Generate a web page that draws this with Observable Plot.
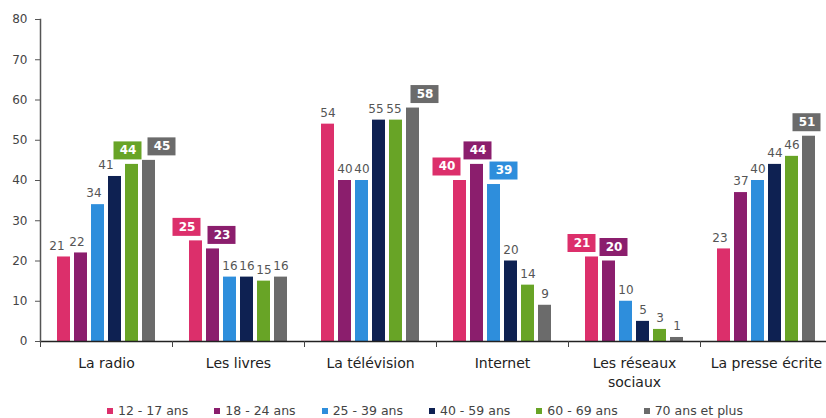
<!DOCTYPE html>
<html><head><meta charset="utf-8">
<script src="https://cdn.jsdelivr.net/npm/d3@7"></script>
<script src="https://cdn.jsdelivr.net/npm/@observablehq/plot@0.6"></script>
<style>
body{margin:0;background:#fff;font-family:"DejaVu Sans",sans-serif;}
#chart svg{display:block;overflow:hidden;}
#legend{display:flex;justify-content:center;padding-top:11px;padding-left:24px;font-size:12.5px;line-height:15px;color:#444;}
#legend .item{display:flex;align-items:center;margin:0 13px;}
#legend .sw{width:6px;height:6px;margin-right:5px;}
</style></head><body>
<div id="chart"></div>
<div id="legend"></div>
<script>
// ---- data ----
const categories = ["La radio", "Les livres", "La télévision", "Internet", "Les réseaux sociaux", "La presse écrite"];
const series = ["12 - 17 ans", "18 - 24 ans", "25 - 39 ans", "40 - 59 ans", "60 - 69 ans", "70 ans et plus"];
const v12_17 = [21, 25, 54, 40, 21, 23];
const v18_24 = [22, 23, 40, 44, 20, 37];
const v25_39 = [34, 16, 40, 39, 10, 40];
const v40_59 = [41, 16, 55, 20, 5, 44];
const v60_69 = [44, 15, 55, 14, 3, 46];
const v70plus = [45, 16, 58, 9, 1, 51];
const yTicks = [0, 10, 20, 30, 40, 50, 60, 70, 80];
// labels drawn in a coloured box
const boxedLabels = [
  "La radio|60 - 69 ans", "La radio|70 ans et plus",
  "Les livres|12 - 17 ans", "Les livres|18 - 24 ans",
  "La télévision|70 ans et plus",
  "Internet|12 - 17 ans", "Internet|18 - 24 ans", "Internet|25 - 39 ans",
  "Les réseaux sociaux|12 - 17 ans", "Les réseaux sociaux|18 - 24 ans",
  "La presse écrite|70 ans et plus"
];

// ---- style ----
const colors = ["#dc2f6b", "#8b1e6d", "#2e8edc", "#0e2152", "#68a426", "#6b6b6b"];
const labelNudge = {
  "La radio|12 - 17 ans": -7, "La radio|18 - 24 ans": -4, "La radio|25 - 39 ans": -4, "La radio|40 - 59 ans": -9,
  "La radio|60 - 69 ans": -4, "La radio|70 ans et plus": 13,
  "Les livres|12 - 17 ans": -9, "Les livres|18 - 24 ans": 9,
  "La télévision|40 - 59 ans": -3, "La télévision|60 - 69 ans": -2, "La télévision|70 ans et plus": 12,
  "Internet|12 - 17 ans": -13, "Internet|18 - 24 ans": 1, "Internet|25 - 39 ans": 10,
  "Les réseaux sociaux|12 - 17 ans": -10, "Les réseaux sociaux|18 - 24 ans": 5,
  "La presse écrite|12 - 17 ans": -4, "La presse écrite|70 ans et plus": -2
};

const values = [v12_17, v18_24, v25_39, v40_59, v60_69, v70plus];
const rows = categories.flatMap((c, i) => series.map((s, j) => ({cat: c, s, v: values[j][i], key: c + "|" + s, color: colors[j]})));

const labelMarks = rows.flatMap(r => {
  const dx = labelNudge[r.key] || 0;
  if (boxedLabels.includes(r.key)) {
    return [
      Plot.tickY([r], {fx: "cat", x: "s", y: "v", stroke: r.color, strokeWidth: 18, insetLeft: -7.5, insetRight: -7.5, dx, dy: -14}),
      Plot.text([r], {fx: "cat", x: "s", y: "v", text: d => String(d.v), fill: "white", fontWeight: "bold", fontSize: 12, dx, dy: -14})
    ];
  }
  return [Plot.text([r], {fx: "cat", x: "s", y: "v", text: d => String(d.v), fill: "#555", fontSize: 12, dx, dy: -11})];
});

const wrapCat = d => d.replace(" sociaux", "\nsociaux");

const chart = Plot.plot({
  width: 826, height: 392,
  marginLeft: 40, marginRight: -6, marginTop: 19, marginBottom: 51,
  style: {fontFamily: "DejaVu Sans, sans-serif", background: "white"},
  fx: {domain: categories, padding: 0, label: null},
  x: {domain: series, paddingInner: 0.22, paddingOuter: 0.86, axis: null},
  y: {domain: [0, 80], axis: null},
  color: {domain: series, range: colors},
  marks: [
    Plot.barY(rows, {fx: "cat", x: "s", y: "v", fill: "s"}),
    Plot.ruleY([0], {stroke: "#222", strokeWidth: 1.5}),
    Plot.frame({anchor: "left", insetTop: 322, insetBottom: -5, stroke: "#444"}),
    Plot.frame({anchor: "left", facetAnchor: "left", stroke: "#555", strokeWidth: 1.5}),
    Plot.axisY({ticks: yTicks, tickSize: 5, tickPadding: 8, fontSize: 12, fill: "#444", stroke: "#555", label: null}),
    Plot.axisFx({anchor: "bottom", tickSize: 0, tickPadding: 13, fontSize: 14, lineHeight: 1.35, fill: "#222", label: null, tickFormat: wrapCat}),
    ...labelMarks
  ]
});
document.getElementById("chart").appendChild(chart);

const legend = document.getElementById("legend");
series.forEach((s, i) => {
  const it = document.createElement("div");
  it.className = "item";
  it.innerHTML = `<span class="sw" style="background:${colors[i]}"></span><span>${s}</span>`;
  legend.appendChild(it);
});
</script>
</body></html>
